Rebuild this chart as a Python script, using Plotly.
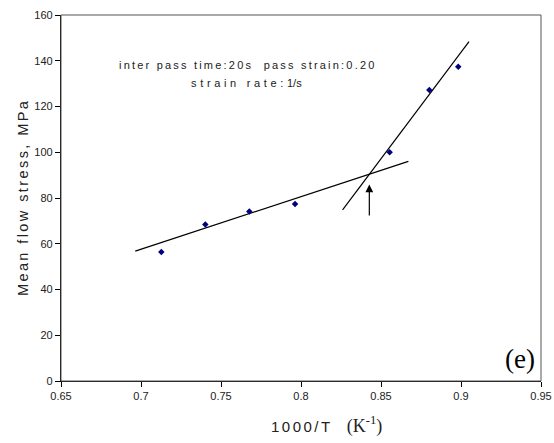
import plotly.graph_objects as go

# Measured mean flow stress versus inverse temperature
inv_temp = [0.7127, 0.7402, 0.7677, 0.7963, 0.8554, 0.8802, 0.8983]
flow_stress = [56.4, 68.4, 74.1, 77.4, 100.0, 127.2, 137.4]

# Trend lines for the two regimes (end points)
low_fit_x = [0.6964, 0.8671]
low_fit_y = [56.8, 96.0]
high_fit_x = [0.826, 0.905]
high_fit_y = [74.8, 148.4]

# Arrow marking the break point
arrow_x = 0.8427
arrow_tail_y = 71.7
arrow_tip_y = 85.9

x_ticks = [0.65, 0.7, 0.75, 0.8, 0.85, 0.9, 0.95]
y_ticks = [0, 20, 40, 60, 80, 100, 120, 140, 160]

SANS = "Liberation Sans, Arial, sans-serif"
SERIF = "Liberation Serif, Times New Roman, serif"


def spaced(s, gap):
    """Widen the tracking of a label by putting a narrow space between glyphs."""
    return gap.join(s)


THIN = "\u2009"
SIXTH = "\u2006"
THIRD = "\u2004"

fig = go.Figure()

fig.add_trace(go.Scatter(x=low_fit_x, y=low_fit_y, mode="lines",
                         line=dict(color="black", width=1.2), showlegend=False))
fig.add_trace(go.Scatter(x=high_fit_x, y=high_fit_y, mode="lines",
                         line=dict(color="black", width=1.2), showlegend=False))
fig.add_trace(go.Scatter(x=inv_temp, y=flow_stress, mode="markers",
                         marker=dict(symbol="diamond", size=5, color="#000080"),
                         showlegend=False))

fig.add_annotation(x=arrow_x, y=arrow_tip_y, ax=arrow_x, ay=arrow_tail_y,
                   xref="x", yref="y", axref="x", ayref="y", text="",
                   showarrow=True, arrowhead=2, arrowsize=1.3, arrowwidth=1.2,
                   arrowcolor="black")

fig.add_annotation(x=0.766, y=138.1, xref="x", yref="y",
                   text=spaced("inter pass time:20s  pass strain:0.20", THIN),
                   showarrow=False, font=dict(family=SANS, size=11, color="#222"))
fig.add_annotation(x=0.766, y=130.3, xref="x", yref="y",
                   text=spaced("strain rate:", THIRD) + THIRD + "1/s",
                   showarrow=False, font=dict(family=SANS, size=11, color="#222"))

fig.add_annotation(x=0.9475, y=9.5, xref="x", yref="y", text="(e)",
                   xanchor="right",
                   showarrow=False, font=dict(family=SERIF, size=27, color="black"))

fig.add_annotation(x=0.553, y=-0.158, xref="paper", yref="paper", xanchor="center",
                   text=spaced("1000/T", SIXTH)
                   + "&nbsp;&nbsp;&nbsp;&nbsp;<span style='font-family:Liberation Serif, Times New Roman, serif;font-size:18px'>(K<sup>-1</sup>)</span>",
                   showarrow=False, font=dict(family=SANS, size=15, color="#222"))
fig.add_annotation(x=-0.079, y=0.5, xref="paper", yref="paper",
                   xanchor="center", yanchor="middle",
                   text=spaced("Mean flow stress, MPa", SIXTH), textangle=-90,
                   showarrow=False, font=dict(family=SANS, size=14.5, color="#222"))

# Frame around the plotting area
fig.add_shape(type="rect", xref="paper", yref="paper", x0=0, y0=0, x1=1, y1=1,
              line=dict(color="#555", width=1))

fig.update_xaxes(range=[0.65, 0.95], tickvals=x_ticks,
                 ticktext=[f"{v:g}" for v in x_ticks], automargin=False,
                 showgrid=False, zeroline=False, showline=True,
                 linecolor="black", linewidth=1.2, ticks="outside", ticklen=5,
                 tickcolor="black", tickfont=dict(family=SANS, size=11, color="#222"))
fig.update_yaxes(range=[0, 160], tickvals=y_ticks, automargin=False,
                 showgrid=False, zeroline=False, showline=True,
                 linecolor="black", linewidth=1.2, ticks="outside", ticklen=5,
                 tickcolor="black", tickfont=dict(family=SANS, size=11, color="#222"))

fig.update_layout(width=554, height=443, autosize=False,
                  margin=dict(l=61, r=13, t=15, b=62),
                  paper_bgcolor="white", plot_bgcolor="white")

fig.write_html("out.html")
